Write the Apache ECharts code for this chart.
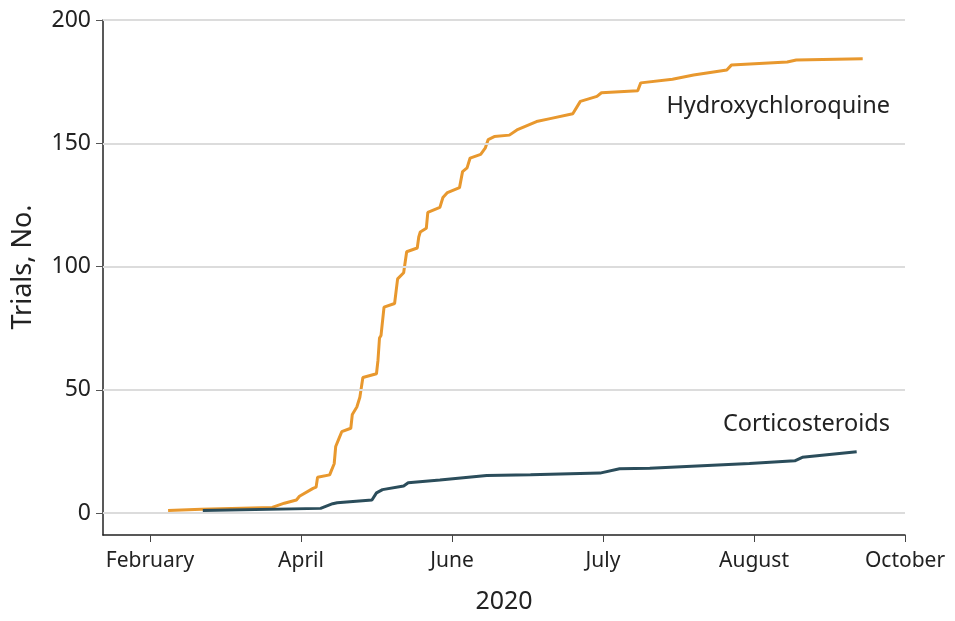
<!DOCTYPE html>
<html><head><meta charset="utf-8">
<script src="https://cdn.jsdelivr.net/npm/echarts@6/dist/echarts.min.js"></script>
<style>html,body{margin:0;padding:0;background:#fff}#c{width:955px;height:621px}</style>
</head><body><div id="c"></div>
<script>
// x positions are in "tick units": 0 = February, 1 = April, 2 = June, 3 = July, 4 = August, 5 = October
var xTickLabels = ['February', 'April', 'June', 'July', 'August', 'October'];
var yTicks = [0, 50, 100, 150, 200];

var hcqX = [0.12,0.34,0.81,0.89,0.97,0.99,1.08,1.10,1.11,1.19,1.20,1.22,1.23,1.25,1.27,1.33,1.34,1.37,1.39,1.41,1.50,1.51,1.52,1.53,1.55,1.62,1.63,1.64,1.68,1.70,1.77,1.78,1.79,1.83,1.84,1.92,1.94,1.97,2.05,2.07,2.10,2.12,2.19,2.22,2.24,2.28,2.38,2.43,2.56,2.65,2.80,2.85,2.96,2.99,3.23,3.25,3.46,3.60,3.82,3.85,4.22,4.28,4.72];
var hcqY = [1,1.5,2.3,4,5.3,6.8,10,10.5,14.5,15.5,17,20,27,30,33,34.4,40,43,47,55,56.5,62,71,72,83.5,85,90,95,97.5,106,107.5,112,114,115.5,122,124,128,130,132,138.5,140,144,145.5,148,151.5,152.7,153.3,155.4,158.8,160,162,167,169,170.5,171.3,174.5,176,177.7,179.7,181.7,183,183.8,184.3];

var corX = [0.35,1.13,1.21,1.24,1.47,1.50,1.54,1.68,1.71,1.92,2.23,2.52,2.98,3.11,3.31,3.97,4.27,4.32,4.68];
var corY = [1,1.9,3.8,4.2,5.3,8.2,9.5,11,12.3,13.4,15.2,15.5,16.2,18,18.2,20.1,21.2,22.6,24.9];

function zip(a, b) { return a.map(function (v, i) { return [v, b[i]]; }); }

var FONT = 'Noto Sans';
var chart = echarts.init(document.getElementById('c'), null, {renderer: 'canvas'});
chart.setOption({
  animation: false,
  backgroundColor: '#fff',
  textStyle: {fontFamily: FONT},
  grid: {left: 103, right: 50, top: 20, bottom: 86, containLabel: false, outerBoundsMode: 'none'},
  xAxis: {
    type: 'value', min: -0.311, max: 5,
    name: '2020', nameLocation: 'middle', nameGap: 54,
    nameTextStyle: {fontSize: 25, color: '#222', fontFamily: FONT},
    axisLine: {show: true, onZero: false, lineStyle: {color: '#222', width: 1.5}},
    axisTick: {show: true, customValues: [0,1,2,3,4,5], length: 7, lineStyle: {color: '#444', width: 1}},
    axisLabel: {customValues: [0,1,2,3,4,5], margin: 16, fontSize: 21, color: '#222', fontFamily: FONT,
      formatter: function (v) { return xTickLabels[Math.round(v)]; }},
    splitLine: {show: false}
  },
  yAxis: {
    type: 'value', min: -8.9, max: 200,
    axisLine: {show: true, onZero: false, lineStyle: {color: '#222', width: 1.5}},
    axisTick: {show: true, customValues: yTicks, length: 7, lineStyle: {color: '#555', width: 1}},
    axisLabel: {customValues: yTicks, margin: 12, fontSize: 23, color: '#222', fontFamily: FONT},
    splitLine: {show: false}
  },
  series: [
    {
      type: 'line', name: 'grid', data: [], silent: true,
      markLine: {
        silent: true, symbol: 'none', label: {show: false},
        lineStyle: {color: '#dcdcdc', width: 2, type: 'solid'},
        data: yTicks.map(function (t) { return {yAxis: t}; })
      }
    },
    {
      type: 'line', name: 'Hydroxychloroquine', data: zip(hcqX, hcqY),
      showSymbol: false, lineStyle: {color: '#E8982E', width: 3}, itemStyle: {color: '#E8982E'}, z: 3
    },
    {
      type: 'line', name: 'Corticosteroids', data: zip(corX, corY),
      showSymbol: false, lineStyle: {color: '#2B4D5B', width: 3}, itemStyle: {color: '#2B4D5B'}, z: 4
    }
  ],
  graphic: [
    {type: 'text', x: 23, y: 267, rotation: Math.PI / 2,
      style: {text: 'Trials, No.', fontSize: 27, fill: '#222', fontFamily: FONT, align: 'center', verticalAlign: 'middle'}},
    {type: 'text', right: 65, top: 94, style: {text: 'Hydroxychloroquine', fontSize: 23.5, fill: '#222', fontFamily: FONT}},
    {type: 'text', right: 65, top: 412, style: {text: 'Corticosteroids', fontSize: 23.5, fill: '#222', fontFamily: FONT}}
  ]
});
</script>
</body></html>
